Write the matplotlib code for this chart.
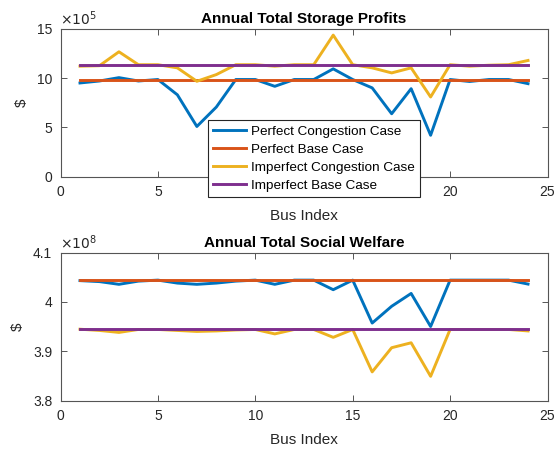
import matplotlib
matplotlib.use("Agg")
import matplotlib.pyplot as plt
import numpy as np

plt.rcParams['font.family'] = ['Liberation Sans', 'DejaVu Sans']

bus = list(range(1, 25))
# Storage profits (x1e5 $)
prof_perf_cong = [9.5, 9.7, 10.04, 9.7, 9.85, 8.3, 5.09, 7.06, 9.85, 9.85, 9.16, 9.85,
                  9.85, 10.93, 9.85, 9.0, 6.38, 8.92, 4.2, 9.85, 9.65, 9.85, 9.85, 9.43]
prof_perf_base = [9.84] * 24
prof_imp_cong = [11.2, 11.25, 12.66, 11.35, 11.35, 11.03, 9.67, 10.35, 11.35, 11.35, 11.2, 11.35,
                 11.35, 14.35, 11.35, 11.03, 10.52, 11.03, 8.08, 11.35, 11.2, 11.3, 11.35, 11.78]
prof_imp_base = [11.36] * 24

# Social welfare (x1e8 $)
sw_perf_cong = [4.043, 4.041, 4.0355, 4.042, 4.044, 4.038, 4.0355, 4.038, 4.042, 4.044, 4.0355, 4.044,
                4.044, 4.0246, 4.044, 3.957, 3.991, 4.017, 3.950, 4.044, 4.044, 4.044, 4.044, 4.036]
sw_perf_base = [4.0437] * 24
sw_imp_cong = [3.9445, 3.942, 3.938, 3.944, 3.944, 3.942, 3.940, 3.941, 3.943, 3.944, 3.935, 3.944,
               3.944, 3.928, 3.944, 3.858, 3.907, 3.917, 3.849, 3.944, 3.944, 3.944, 3.944, 3.941]
sw_imp_base = [3.9445] * 24

labels = ['Perfect Congestion Case', 'Perfect Base Case',
          'Imperfect Congestion Case', 'Imperfect Base Case']
colors = ['#0072BD', '#D95319', '#EDB120', '#7E2F8E']
axcol = '#262626'
spcol = '#555555'

fig = plt.figure(figsize=(5.57, 4.49), dpi=100)
W, H = 557, 449
ax1 = fig.add_axes([60.5 / W, 1 - 176.7 / H, 487 / W, 148 / H])
ax2 = fig.add_axes([60.5 / W, 1 - 400.5 / H, 487 / W, 148 / H])

def style(ax):
    ax.set_xlim(0, 25)
    ax.set_xticks([0, 5, 10, 15, 20, 25])
    ax.tick_params(direction='in', top=True, right=True, labelsize=10, labelcolor=axcol,
                   color=spcol, length=4, width=0.7, pad=6)
    for s in ax.spines.values():
        s.set_color(spcol)
        s.set_linewidth(0.8)
    ax.set_xlabel('Bus Index', fontsize=11, color=axcol, labelpad=7)
    ax.set_ylabel('\\$', fontsize=11, color=axcol, labelpad=6)

for ys, c, lab in zip([prof_perf_cong, prof_perf_base, prof_imp_cong, prof_imp_base], colors, labels):
    ax1.plot(bus, ys, color=c, lw=2.1, label=lab)
ax1.set_ylim(0, 15)
ax1.set_yticks([0, 5, 10, 15])
style(ax1)
ax1.set_title('Annual Total Storage Profits', fontsize=11, fontweight='bold', pad=4)
ax1.text(0.0, 1.005, r'$\times10^{5}$', transform=ax1.transAxes, fontsize=10, color=axcol,
         ha='left', va='bottom')
leg = ax1.legend(loc='upper left', bbox_to_anchor=(0.3025, 0.383), fontsize=9.7,
                 frameon=True, fancybox=False, edgecolor=axcol, borderpad=0.4,
                 labelspacing=0.42, handlelength=2.4, handletextpad=0.4, borderaxespad=0)
leg.get_frame().set_linewidth(0.8)
leg.get_frame().set_alpha(1)
leg.set_zorder(10)

for ys, c in zip([sw_perf_cong, sw_perf_base, sw_imp_cong, sw_imp_base], colors):
    ax2.plot(bus, ys, color=c, lw=2.1)
ax2.set_ylim(3.8, 4.1)
ax2.set_yticks([3.8, 3.9, 4.0, 4.1])
ax2.set_yticklabels(['3.8', '3.9', '4', '4.1'])
style(ax2)
ax2.set_title('Annual Total Social Welfare', fontsize=11, fontweight='bold', pad=4)
ax2.text(0.0, 1.005, r'$\times10^{8}$', transform=ax2.transAxes, fontsize=10, color=axcol,
         ha='left', va='bottom')

fig.savefig('out.png', dpi=100)
